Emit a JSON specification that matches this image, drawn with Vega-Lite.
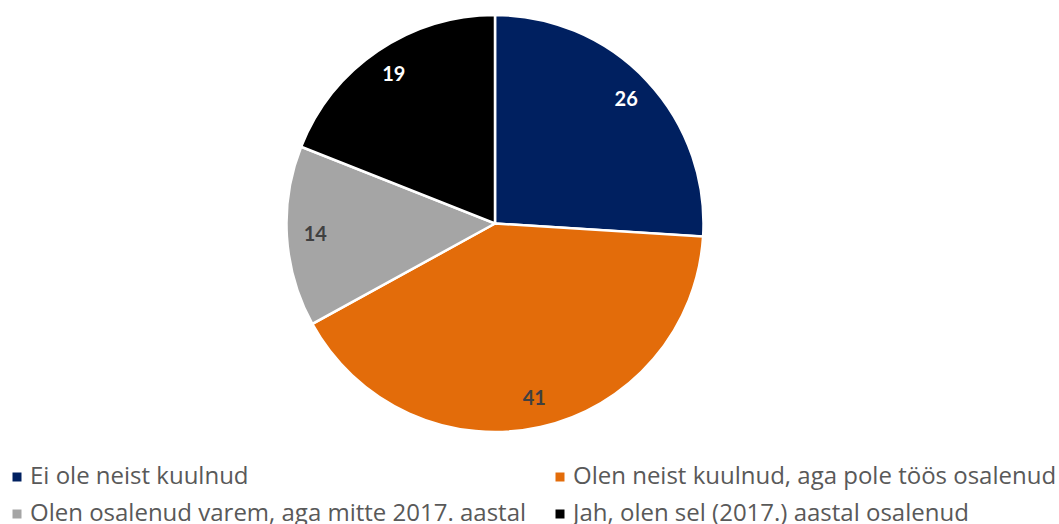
{
  "$schema": "https://vega.github.io/schema/vega-lite/v6.json",
  "width": 990,
  "height": 447,
  "autosize": {"type": "none"},
  "padding": {"left": 0, "top": 0, "right": 69, "bottom": 77},
  "background": "white",
  "config": {"view": {"stroke": null}, "font": "Open Sans"},
  "data": {"values": [
    {"n": 1, "cat": "Ei ole neist kuulnud", "value": 26},
    {"n": 2, "cat": "Olen neist kuulnud, aga pole töös osalenud", "value": 41},
    {"n": 3, "cat": "Olen osalenud varem, aga mitte 2017. aastal", "value": 14},
    {"n": 4, "cat": "Jah, olen sel (2017.) aastal osalenud", "value": 19}
  ]},
  "encoding": {
    "theta": {"field": "value", "type": "quantitative", "stack": true},
    "order": {"field": "n", "type": "quantitative"}
  },
  "layer": [
    {
      "mark": {"type": "arc", "outerRadius": 208.5, "stroke": "white", "strokeWidth": 2.5},
      "encoding": {
        "color": {
          "field": "cat", "type": "nominal",
          "scale": {
            "domain": ["Ei ole neist kuulnud", "Olen neist kuulnud, aga pole töös osalenud", "Olen osalenud varem, aga mitte 2017. aastal", "Jah, olen sel (2017.) aastal osalenud"],
            "range": ["#002060", "#E36C0A", "#A5A5A5", "#000000"]
          },
          "legend": {
            "title": null,
            "orient": "none",
            "legendX": 5,
            "legendY": 465,
            "columns": 2,
            "direction": "horizontal",
            "columnPadding": 21,
            "rowPadding": 13,
            "padding": 0,
            "symbolType": "square",
            "symbolSize": 81,
            "symbolStrokeWidth": 0,
            "symbolOffset": 0,
            "labelOffset": 1,
            "labelFont": "Open Sans",
            "labelFontSize": 24,
            "labelColor": "#595959",
            "labelLimit": 600
          }
        }
      }
    },
    {
      "mark": {"type": "text", "radius": 180, "font": "Lato", "fontWeight": "bold", "fontSize": 20, "align": "center", "baseline": "middle"},
      "encoding": {
        "text": {"field": "value", "type": "quantitative"},
        "color": {
          "condition": {"test": "datum.value == 41 || datum.value == 14", "value": "#404040"},
          "value": "#FFFFFF"
        }
      }
    }
  ]
}
